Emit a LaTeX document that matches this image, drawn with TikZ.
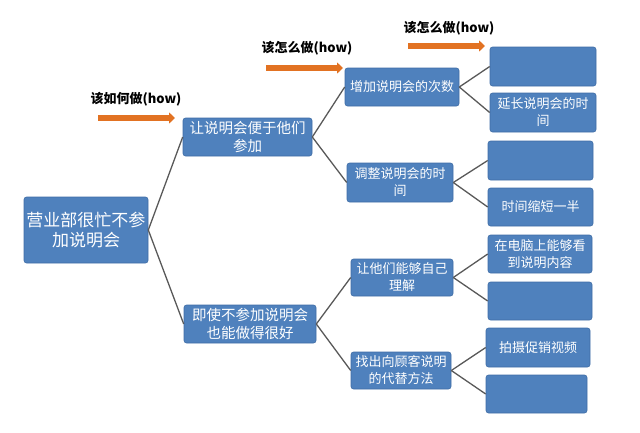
\documentclass[tikz,border=0pt]{standalone}
\usepackage{fontspec}
\newfontfamily\cjk{Noto Sans CJK SC}
\usetikzlibrary{arrows.meta}
\definecolor{boxblue}{HTML}{4F81BD}
\definecolor{boxedge}{HTML}{3F6DA6}
\definecolor{arrorange}{HTML}{E27222}
\definecolor{linkgray}{HTML}{595959}
\tikzset{
  box/.style={draw=boxedge, line width=0.6pt, fill=boxblue, rounded corners=2.5pt,
    text=white, align=center, inner sep=1pt, font=\cjk},
  link/.style={draw=linkgray, line width=1.3pt},
  howarrow/.style={draw=arrorange, line width=5.5pt, -{Triangle[length=6pt,width=11pt]}},
  howlabel/.style={font=\cjk\bfseries\fontsize{13}{15}\selectfont, text=black, inner sep=0pt},
  big/.style={font=\cjk\fontsize{17}{20}\selectfont},
  mid/.style={font=\cjk\fontsize{14.5}{18}\selectfont},
  small/.style={font=\cjk\fontsize{13}{17}\selectfont}
}
\begin{document}
\begin{tikzpicture}[x=1pt,y=-1pt]
\useasboundingbox (0,0) rectangle (640,432);
% root
\node[box,big,minimum width=124pt,minimum height=66pt,text width=120pt] (root) at (86,230) {营业部很忙不参\\加说明会};
% level 1
\node[box,mid,minimum width=129pt,minimum height=38pt,text width=125pt] (a) at (247.5,137) {让说明会便于他们\\参加};
\node[box,mid,minimum width=132pt,minimum height=38pt,text width=128pt] (b) at (250,324) {即使不参加说明会\\也能做得很好};
% level 2
\node[box,small,minimum width=114pt,minimum height=38pt,text width=110pt] (aa) at (402,87) {增加说明会的次数};
\node[box,small,minimum width=106pt,minimum height=39pt,text width=102pt] (ab) at (400,182.5) {调整说明会的时\\间};
\node[box,small,minimum width=102pt,minimum height=37pt,text width=98pt] (ba) at (402,277.5) {让他们能够自己\\理解};
\node[box,small,minimum width=100pt,minimum height=37pt,text width=98pt] (bb) at (401,370.5) {找出向顾客说明\\的代替方法};
% level 3
\node[box,small,minimum width=106pt,minimum height=39pt,text width=102pt] (aaa) at (543,66.5) {};
\node[box,small,minimum width=106pt,minimum height=39pt,text width=102pt] (aab) at (543,112.5) {延长说明会的时\\间};
\node[box,small,minimum width=105pt,minimum height=39pt,text width=101pt] (aba) at (540.5,160.5) {};
\node[box,small,minimum width=105pt,minimum height=38pt,text width=101pt] (abb) at (540.5,207) {时间缩短一半};
\node[box,small,minimum width=104pt,minimum height=38pt,text width=100pt] (baa) at (540,254) {在电脑上能够看\\到说明内容};
\node[box,small,minimum width=104pt,minimum height=38pt,text width=100pt] (bab) at (540,301) {};
\node[box,small,minimum width=104pt,minimum height=39pt,text width=100pt] (bba) at (538,347.5) {拍摄促销视频};
\node[box,small,minimum width=101pt,minimum height=38pt,text width=97pt] (bbb) at (536.5,394) {};
% connectors
\draw[link] (root.east) -- (a.west);
\draw[link] (root.east) -- (b.west);
\draw[link] (a.east) -- (aa.west);
\draw[link] (a.east) -- (ab.west);
\draw[link] (b.east) -- (ba.west);
\draw[link] (b.east) -- (bb.west);
\draw[link] (aa.east) -- (aaa.west);
\draw[link] (aa.east) -- (aab.west);
\draw[link] (ab.east) -- (aba.west);
\draw[link] (ab.east) -- (abb.west);
\draw[link] (ba.east) -- (baa.west);
\draw[link] (ba.east) -- (bab.west);
\draw[link] (bb.east) -- (bba.west);
\draw[link] (bb.east) -- (bbb.west);
% how arrows
\coordinate (h1s) at (98,118); \coordinate (h1e) at (175,118);
\coordinate (h2s) at (266,68); \coordinate (h2e) at (343,68);
\coordinate (h3s) at (408,46); \coordinate (h3e) at (485,46);
\draw[howarrow] (h1s) -- (h1e);
\draw[howarrow] (h2s) -- (h2e);
\draw[howarrow] (h3s) -- (h3e);
\node[howlabel] (l1) at (136,99) {该如何做(how)};
\node[howlabel] (l2) at (307,48) {该怎么做(how)};
\node[howlabel] (l3) at (449,28) {该怎么做(how)};
\end{tikzpicture}
\end{document}
